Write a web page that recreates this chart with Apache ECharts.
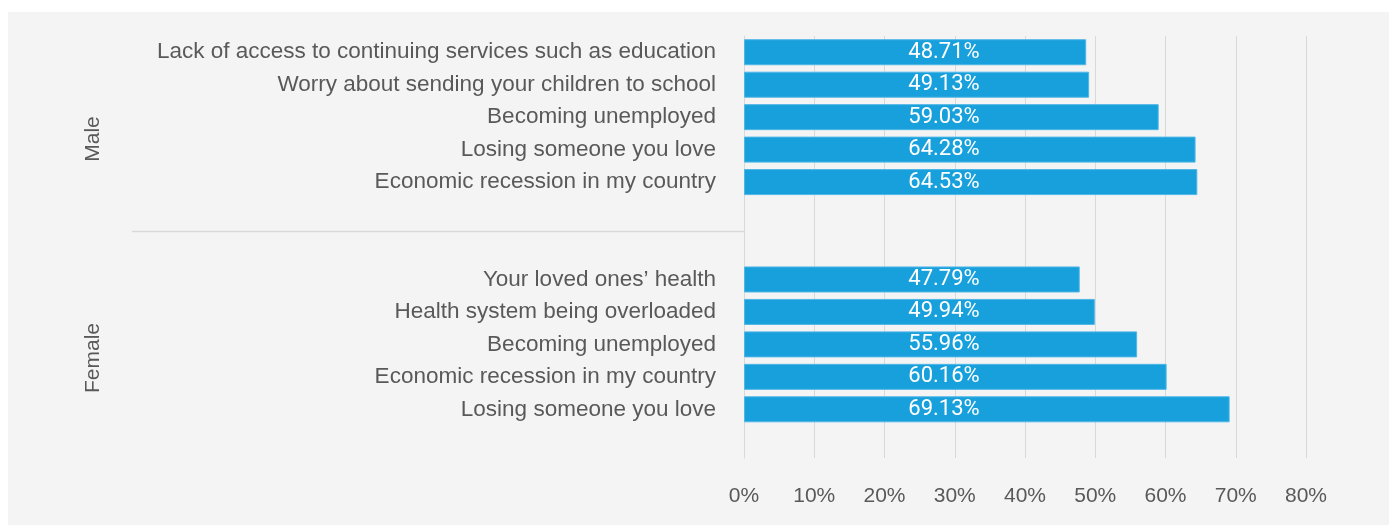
<!DOCTYPE html>
<html>
<head>
<meta charset="utf-8">
<script src="https://cdn.jsdelivr.net/npm/echarts@6/dist/echarts.min.js"></script>
<style>
  html, body { margin: 0; padding: 0; background: #ffffff; }
  #panel { position: absolute; left: 8px; top: 12px; width: 1381px; height: 513px; background: #f4f4f4; }
  #chart { position: absolute; left: 0; top: 0; width: 1390px; height: 525px; }
</style>
</head>
<body>
<div id="panel"></div>
<div id="chart"></div>
<script>
// Worries reported, by gender (share of respondents)
const maleLabels = [
  'Lack of access to continuing services such as education',
  'Worry about sending your children to school',
  'Becoming unemployed',
  'Losing someone you love',
  'Economic recession in my country'
];
const maleValues = [48.71, 49.13, 59.03, 64.28, 64.53];

const femaleLabels = [
  'Your loved ones\u2019 health',
  'Health system being overloaded',
  'Becoming unemployed',
  'Economic recession in my country',
  'Losing someone you love'
];
const femaleValues = [47.79, 49.94, 55.96, 60.16, 69.13];

const groupNames = ['Male', 'Female'];
const tickValues = [0, 10, 20, 30, 40, 50, 60, 70, 80];

// Two blank rows separate the groups, one blank row closes the list
const categories = [...maleLabels, '', '', ...femaleLabels, ''];
const values = [...maleValues, null, null, ...femaleValues, null];

const textColor = '#595959';
const gridColor = '#d9d9d9';
const labelFont = '"Liberation Sans", Arial, sans-serif';

const chart = echarts.init(document.getElementById('chart'), null, { renderer: 'canvas' });

chart.setOption({
  backgroundColor: 'transparent',
  animation: false,
  grid: { left: 744, right: 84, top: 36, bottom: 67, containLabel: false },
  xAxis: {
    type: 'value',
    min: tickValues[0],
    max: tickValues[tickValues.length - 1],
    interval: 10,
    axisLine: { show: false },
    axisTick: { show: false },
    splitLine: { show: true, lineStyle: { color: gridColor, width: 1 } },
    axisLabel: {
      margin: 28,
      color: textColor,
      fontFamily: labelFont,
      fontSize: 21,
      formatter: v => v + '%'
    }
  },
  yAxis: {
    type: 'category',
    inverse: true,
    data: categories,
    axisLine: { show: true, lineStyle: { color: gridColor, width: 1 } },
    axisTick: { show: false },
    axisLabel: {
      margin: 28,
      color: textColor,
      fontFamily: labelFont,
      fontSize: 22.5,
      interval: 0
    }
  },
  series: [{
    type: 'bar',
    data: values,
    barWidth: 26,
    itemStyle: { color: '#17a0db', borderColor: '#4fb6e6', borderWidth: 1 },
    label: {
      show: true,
      position: 'insideLeft',
      distance: 200,
      align: 'center',
      color: '#ffffff',
      fontFamily: 'Roboto, sans-serif',
      fontSize: 22,
      formatter: p => p.value == null ? '' : p.value.toFixed(2) + '%'
    }
  }]
});

// Group divider and rotated group names on the category side
const y5 = chart.convertToPixel({ yAxisIndex: 0 }, 5);
const y6 = chart.convertToPixel({ yAxisIndex: 0 }, 6);
const dividerY = Math.round((y5 + y6) / 2) + 0.5;
const x0 = chart.convertToPixel({ xAxisIndex: 0 }, 0);

chart.setOption({
  graphic: [
    {
      type: 'line',
      shape: { x1: 132, y1: dividerY, x2: x0, y2: dividerY },
      style: { stroke: gridColor, lineWidth: 1.5 }
    },
    {
      type: 'text',
      x: 93, y: 139,
      rotation: Math.PI / 2,
      style: {
        text: groupNames[0], fill: textColor, font: '21px ' + labelFont,
        textAlign: 'center', textVerticalAlign: 'middle'
      }
    },
    {
      type: 'text',
      x: 93, y: 358,
      rotation: Math.PI / 2,
      style: {
        text: groupNames[1], fill: textColor, font: '21px ' + labelFont,
        textAlign: 'center', textVerticalAlign: 'middle'
      }
    }
  ]
});
</script>
</body>
</html>
